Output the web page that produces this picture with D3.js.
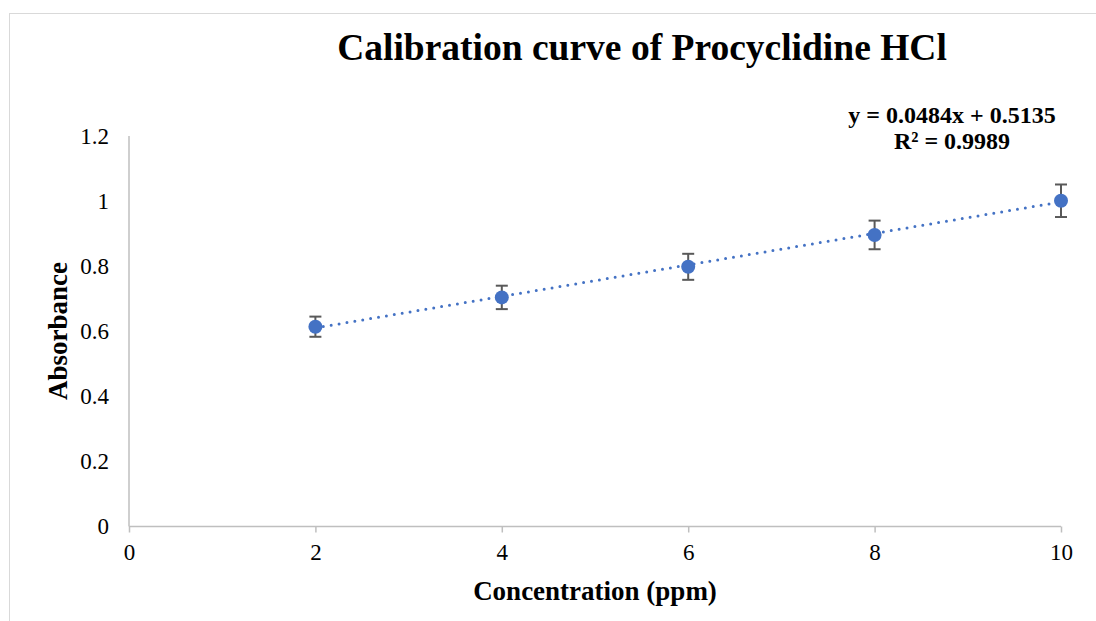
<!DOCTYPE html>
<html>
<head>
<meta charset="utf-8">
<script src="https://cdn.jsdelivr.net/npm/d3@7"></script>
<style>
  html, body { margin: 0; padding: 0; background: #fff; }
  svg { display: block; font-family: 'Liberation Serif', 'Times New Roman', serif; }
</style>
</head>
<body>
<svg id="chart" width="1096" height="621"></svg>
<script>
// data
const concentration = [2, 4, 6, 8, 10];
const absorbance = [0.614, 0.704, 0.798, 0.896, 1.001];
const errors = [0.031, 0.036, 0.04, 0.044, 0.05];
const xTicks = [0, 2, 4, 6, 8, 10];
const yTicks = [0, 0.2, 0.4, 0.6, 0.8, 1, 1.2];
const slope = 0.0484, intercept = 0.5135;

const svg = d3.select('#chart');
const blue = '#4472C4';

// frame of the chart area
svg.append('rect')
  .attr('x', 9.5).attr('y', 13.5)
  .attr('width', 1200).attr('height', 700)
  .attr('fill', 'none').attr('stroke', '#d9d9d9');

const x = d3.scaleLinear().domain([0, 10]).range([129, 1061]);
const y = d3.scaleLinear().domain([0, 1.2]).range([526.5, 136]);

// x axis
const xAxis = svg.append('g')
  .attr('transform', `translate(0,${y(0)})`)
  .call(d3.axisBottom(x).tickValues(xTicks).tickSize(6).tickPadding(11).tickFormat(d3.format('d')));
xAxis.select('.domain').attr('stroke', '#bfbfbf').attr('stroke-width', 1.5)
  .attr('d', `M${x(0)},0H${x(10)}`);
xAxis.selectAll('.tick line').attr('stroke', '#bfbfbf').attr('stroke-width', 1.5);
xAxis.selectAll('.tick text').attr('font-size', 23).attr('fill', '#000')
  .attr('font-family', "'Liberation Serif', serif");

// y axis
const yAxis = svg.append('g')
  .attr('transform', `translate(${x(0)},0)`)
  .call(d3.axisLeft(y).tickValues(yTicks).tickSize(0).tickPadding(20).tickFormat(d => d3.format('~g')(d)));
yAxis.select('.domain').attr('stroke', '#bfbfbf').attr('stroke-width', 1.5)
  .attr('d', `M0,${y(1.2)}V${y(0)}`);
yAxis.selectAll('.tick text').attr('font-size', 23).attr('fill', '#000')
  .attr('font-family', "'Liberation Serif', serif");

// trendline (linear fit)
const fit = d3.line().x(d => x(d)).y(d => y(slope * d + intercept));
svg.append('path')
  .datum([concentration[0], concentration[concentration.length - 1]])
  .attr('d', fit)
  .attr('fill', 'none')
  .attr('stroke', blue)
  .attr('stroke-width', 3)
  .attr('stroke-linecap', 'round')
  .attr('stroke-dasharray', '0,8');

// error bars
const eb = svg.append('g').attr('stroke', '#595959').attr('stroke-width', 2);
concentration.forEach((c, i) => {
  const cx = x(c), lo = y(absorbance[i] - errors[i]), hi = y(absorbance[i] + errors[i]);
  eb.append('line').attr('x1', cx).attr('x2', cx).attr('y1', lo).attr('y2', hi);
  eb.append('line').attr('x1', cx - 6).attr('x2', cx + 6).attr('y1', lo).attr('y2', lo);
  eb.append('line').attr('x1', cx - 6).attr('x2', cx + 6).attr('y1', hi).attr('y2', hi);
});

// markers
svg.append('g').selectAll('circle')
  .data(concentration)
  .join('circle')
  .attr('cx', d => x(d))
  .attr('cy', (d, i) => y(absorbance[i]))
  .attr('r', 7)
  .attr('fill', blue);

// title
svg.append('text')
  .attr('x', 642).attr('y', 60)
  .attr('text-anchor', 'middle')
  .attr('font-size', 37.5).attr('font-weight', 700)
  .text('Calibration curve of Procyclidine HCl');

// equation label
svg.append('text')
  .attr('x', 952).attr('y', 123)
  .attr('text-anchor', 'middle')
  .attr('font-size', 24).attr('font-weight', 700)
  .text(`y = ${slope}x + ${intercept}`);
svg.append('text')
  .attr('x', 952).attr('y', 149)
  .attr('text-anchor', 'middle')
  .attr('font-size', 24).attr('font-weight', 700)
  .text('R² = 0.9989');

// axis titles
svg.append('text')
  .attr('x', 595).attr('y', 600)
  .attr('text-anchor', 'middle')
  .attr('font-size', 27).attr('font-weight', 700)
  .text('Concentration (ppm)');

svg.append('text')
  .attr('transform', 'translate(67,331) rotate(-90)')
  .attr('text-anchor', 'middle')
  .attr('font-size', 27).attr('font-weight', 700)
  .text('Absorbance');
</script>
</body>
</html>
